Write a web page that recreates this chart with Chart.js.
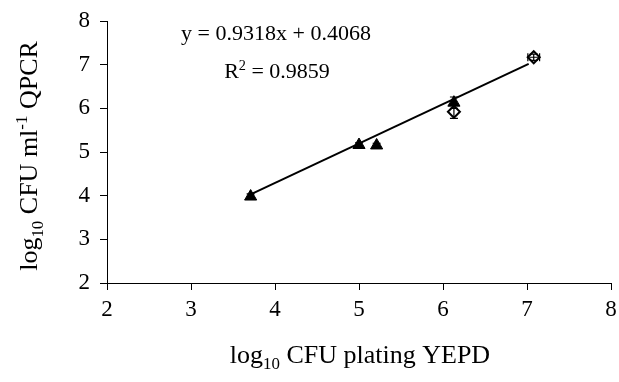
<!DOCTYPE html>
<html>
<head>
<meta charset="utf-8">
<script src="https://cdn.jsdelivr.net/npm/chart.js@4.4.0/dist/chart.umd.min.js"></script>
<style>
  html, body { margin: 0; padding: 0; background: #fff; }
  #wrap { width: 619px; height: 382px; }
</style>
</head>
<body>
<div id="wrap"><canvas id="chart" width="619" height="382"></canvas></div>
<script>
// values
const xTicks = [2, 3, 4, 5, 6, 7, 8];
const yTicks = [2, 3, 4, 5, 6, 7, 8];

const triX = [3.71, 5.0, 5.21, 6.13];
const triY = [3.98, 5.16, 5.15, 6.13];
const triErr = [0.06, 0.05, 0.05, 0.13];

const diaX = [6.13, 7.08];
const diaY = [5.92, 7.17];
const diaErr = [0.15, 0.07];
const diaXErr = [0, 0.07];

// trend line ends as drawn
const fitX = [3.71, 7.02];
const fitY = [4.03, 7.02];

const eqLine1 = 'y = 0.9318x + 0.4068';
const rSquared = '0.9859';

const serif = '"Liberation Serif", "Times New Roman", serif';

function toPoints(xs, ys) {
  return xs.map((x, i) => ({ x: x, y: ys[i] }));
}

// draw a row of text pieces, some raised or lowered
function drawRuns(ctx, runs, size, cx, cy) {
  let total = 0;
  runs.forEach(r => {
    const s = r.sub || r.sup ? size * 0.65 : size;
    ctx.font = s + 'px ' + serif;
    r.w = ctx.measureText(r.t).width;
    total += r.w;
  });
  let x = cx - total / 2;
  ctx.textBaseline = 'alphabetic';
  ctx.textAlign = 'left';
  runs.forEach(r => {
    const s = r.sub || r.sup ? size * 0.65 : size;
    ctx.font = s + 'px ' + serif;
    let y = cy;
    if (r.sub) y += size * 0.22;
    if (r.sup) y -= size * 0.38;
    ctx.fillText(r.t, x, y);
    x += r.w;
  });
}

const extras = {
  id: 'extras',
  afterDatasetsDraw(chart) {
    const ctx = chart.ctx;
    const xs = chart.scales.x, ys = chart.scales.y;
    ctx.save();
    ctx.strokeStyle = '#000';
    ctx.lineWidth = 1.2;
    const cap = 4;
    function vbar(x, y, e) {
      const px = xs.getPixelForValue(x);
      const top = ys.getPixelForValue(y + e), bot = ys.getPixelForValue(y - e);
      ctx.beginPath();
      ctx.moveTo(px, top); ctx.lineTo(px, bot);
      ctx.moveTo(px - cap, top); ctx.lineTo(px + cap, top);
      ctx.moveTo(px - cap, bot); ctx.lineTo(px + cap, bot);
      ctx.stroke();
    }
    function hbar(x, y, e) {
      const py = ys.getPixelForValue(y);
      const l = xs.getPixelForValue(x - e), r = xs.getPixelForValue(x + e);
      ctx.beginPath();
      ctx.moveTo(l, py); ctx.lineTo(r, py);
      ctx.moveTo(l, py - cap); ctx.lineTo(l, py + cap);
      ctx.moveTo(r, py - cap); ctx.lineTo(r, py + cap);
      ctx.stroke();
    }
    triX.forEach((x, i) => vbar(x, triY[i], triErr[i]));
    diaX.forEach((x, i) => {
      vbar(x, diaY[i], diaErr[i]);
      if (diaXErr[i]) hbar(x, diaY[i], diaXErr[i]);
    });

    ctx.fillStyle = '#000';
    // equation and R squared
    drawRuns(ctx, [{ t: eqLine1 }], 22, 276, 40);
    drawRuns(ctx, [{ t: 'R' }, { t: '2', sup: true }, { t: ' = ' + rSquared }], 22, 277, 78);

    // x axis title
    drawRuns(ctx, [{ t: 'log' }, { t: '10', sub: true }, { t: ' CFU plating YEPD' }], 26, 360, 363);

    // y axis title, turned
    ctx.save();
    ctx.translate(37, 156);
    ctx.rotate(-Math.PI / 2);
    drawRuns(ctx, [{ t: 'log' }, { t: '10', sub: true }, { t: ' CFU ml' }, { t: '-1', sup: true }, { t: ' QPCR' }], 26, 0, 0);
    ctx.restore();
    ctx.restore();
  }
};

new Chart(document.getElementById('chart'), {
  type: 'scatter',
  data: {
    datasets: [
      {
        label: 'fit',
        type: 'line',
        data: toPoints(fitX, fitY),
        borderColor: '#000',
        borderWidth: 2,
        pointRadius: 0,
        fill: false
      },
      {
        label: 'diamonds',
        data: toPoints(diaX, diaY),
        pointStyle: 'rectRot',
        pointRadius: 6,
        backgroundColor: '#fff',
        borderColor: '#000',
        borderWidth: 2
      },
      {
        label: 'triangles',
        data: toPoints(triX, triY),
        pointStyle: 'triangle',
        pointRadius: 7,
        backgroundColor: '#000',
        borderColor: '#000',
        borderWidth: 1
      }
    ]
  },
  plugins: [extras],
  options: {
    responsive: false,
    animation: false,
    layout: { padding: { top: 21, right: 5, left: 0, bottom: 0 } },
    plugins: { legend: { display: false }, tooltip: { enabled: false } },
    scales: {
      x: {
        type: 'linear',
        min: 2, max: 8,
        afterBuildTicks: s => { s.ticks = xTicks.map(v => ({ value: v })); },
        afterFit: s => { s.height = 99; s.paddingLeft = 0; s.paddingRight = 0; },
        grid: { drawOnChartArea: false, drawTicks: true, tickLength: 7, color: '#000' },
        border: { color: '#000', width: 1 },
        ticks: { color: '#000', padding: 6, font: { family: serif, size: 23 } }
      },
      y: {
        type: 'linear',
        min: 2, max: 8,
        afterBuildTicks: s => { s.ticks = yTicks.map(v => ({ value: v })); },
        afterFit: s => { s.width = 107; s.paddingTop = 0; s.paddingBottom = 0; },
        grid: { drawOnChartArea: false, drawTicks: true, tickLength: 7, color: '#000' },
        border: { color: '#000', width: 1 },
        ticks: { color: '#000', padding: 10, font: { family: serif, size: 23 } }
      }
    }
  }
});
</script>
</body>
</html>
